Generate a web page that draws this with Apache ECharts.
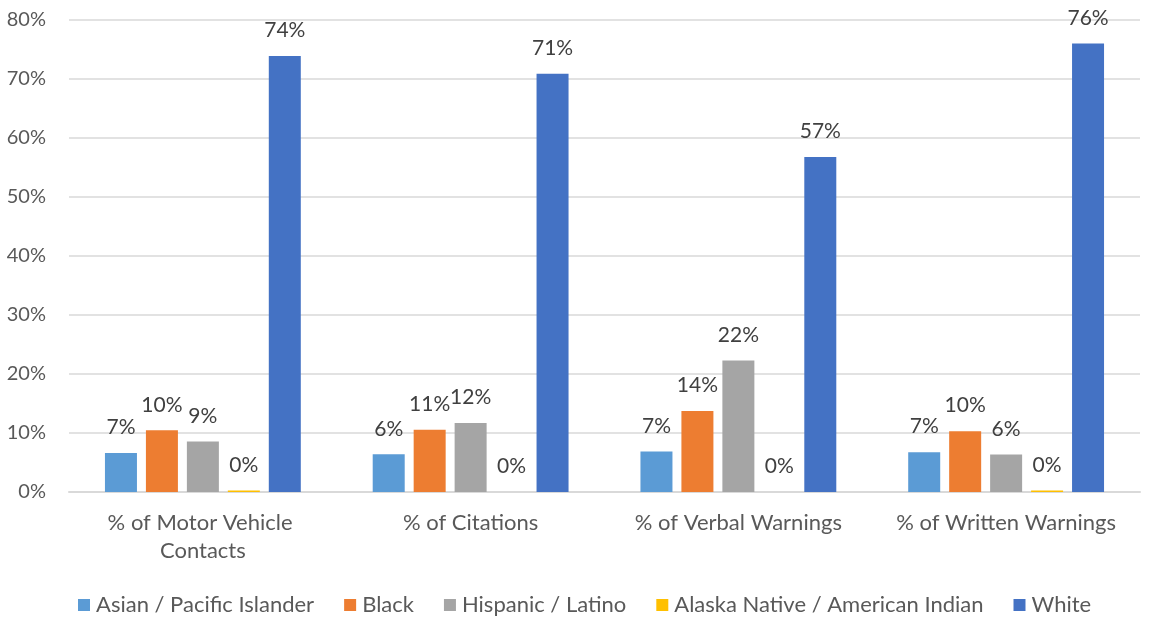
<!DOCTYPE html>
<html>
<head>
<meta charset="utf-8">
<title>Traffic stop outcomes by race</title>
<script src="https://cdn.jsdelivr.net/npm/echarts@6/dist/echarts.min.js"></script>
<style>
  html, body { margin: 0; padding: 0; background: #ffffff; }
  #chart { width: 1150px; height: 617px; }
</style>
</head>
<body>
<div id="chart"></div>
<script>
// Outcome categories along the x axis
const categories = [
  '% of Motor Vehicle Contacts',
  '% of Citations',
  '% of Verbal Warnings',
  '% of Written Warnings'
];

// Share (%) of each outcome by race / ethnicity
const asianPacific   = [6.6, 6.4, 6.85, 6.75];
const black          = [10.45, 10.55, 13.75, 10.3];
const hispanicLatino = [8.55, 11.7, 22.3, 6.35];
const alaskaNative   = [0.25, 0, 0, 0.25];
const white          = [73.9, 70.9, 56.8, 76.0];

const seriesNames = [
  'Asian / Pacific Islander',
  'Black',
  'Hispanic / Latino',
  'Alaska Native / American Indian',
  'White'
];
const seriesData = [asianPacific, black, hispanicLatino, alaskaNative, white];
const colors = ['#5B9BD5', '#ED7D31', '#A5A5A5', '#FFC000', '#4472C4'];

// y axis: 0% to 80% in steps of 10%
const yMin = 0, yMax = 80, yStep = 10;

const FONT = 'Lato';

const chart = echarts.init(document.getElementById('chart'), null, { renderer: 'canvas' });

chart.setOption({
  animation: false,
  color: colors,
  textStyle: { fontFamily: FONT },
  grid: { left: 69, right: 10, top: 20, bottom: 125, containLabel: false },
  legend: {
    left: 73,
    top: 589,
    itemWidth: 12,
    itemHeight: 12,
    itemGap: 30,
    icon: 'rect',
    textStyle: { fontFamily: FONT, fontSize: 22, color: '#595959', padding: [0, 0, 0, 1] },
    data: seriesNames
  },
  xAxis: {
    type: 'category',
    data: categories,
    axisLine: { show: true, lineStyle: { color: '#D9D9D9', width: 2 } },
    axisTick: { show: false },
    axisLabel: {
      fontFamily: FONT,
      fontSize: 22,
      color: '#595959',
      margin: 17,
      lineHeight: 28,
      width: 250,
      overflow: 'break',
      interval: 0
    }
  },
  yAxis: {
    type: 'value',
    min: yMin,
    max: yMax,
    interval: yStep,
    axisLine: { show: false },
    axisTick: { show: false },
    splitLine: { show: true, lineStyle: { color: '#D9D9D9', width: 1.5 } },
    axisLabel: {
      fontFamily: FONT,
      fontSize: 20,
      color: '#595959',
      margin: 23,
      formatter: v => v + '%'
    }
  },
  series: seriesNames.map((name, i) => ({
    name: name,
    type: 'bar',
    data: seriesData[i],
    barWidth: 32,
    barGap: '28%',
    itemStyle: { color: colors[i] },
    label: {
      show: true,
      position: 'top',
      distance: 15,
      fontFamily: FONT,
      fontSize: 21,
      color: '#404040',
      formatter: p => Math.round(p.value) + '%'
    }
  }))
});
</script>
</body>
</html>
